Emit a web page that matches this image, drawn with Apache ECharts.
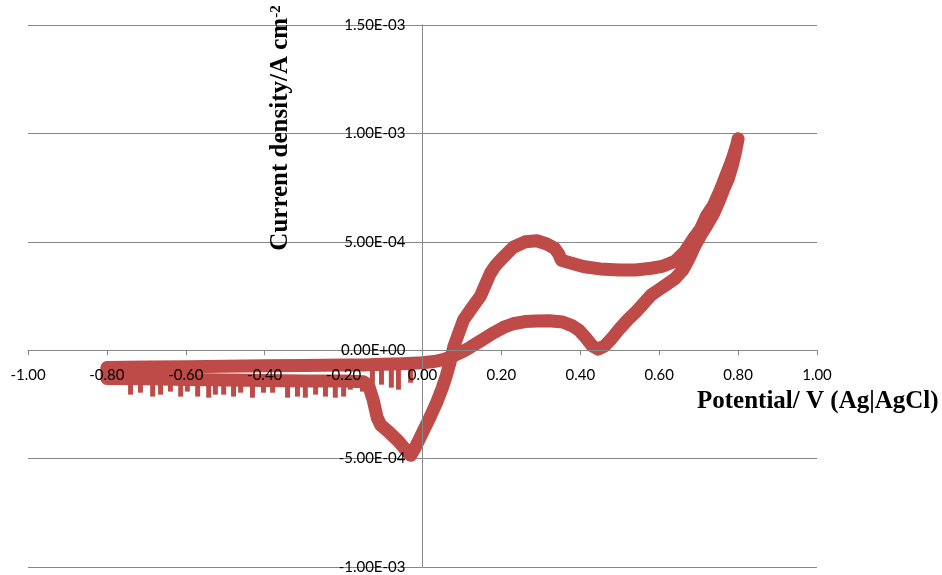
<!DOCTYPE html>
<html>
<head>
<meta charset="utf-8">
<script src="https://cdn.jsdelivr.net/npm/echarts@6/dist/echarts.min.js"></script>
<style>
html,body{margin:0;padding:0;background:#fff;}
#chart{width:942px;height:575px;}
</style>
</head>
<body>
<div id="chart"></div>
<script>
// ---- data (potential in V vs Ag|AgCl, current density in A cm^-2) ----
// closed CV loop: reverse sweep 0.8 -> -0.8, then forward sweep -0.8 -> 0.8
const potential = [
  0.800, 0.793, 0.785, 0.775, 0.763, 0.750, 0.738, 0.722, 0.705, 0.690,
  0.675, 0.660, 0.640, 0.620, 0.600, 0.580, 0.560, 0.540, 0.520, 0.500,
  0.480, 0.462, 0.445, 0.430, 0.415, 0.398, 0.380, 0.355, 0.320, 0.290,
  0.260, 0.230, 0.205, 0.180, 0.160, 0.140, 0.120, 0.100, 0.080, 0.055,
  0.030, 0.000, -0.050, -0.100, -0.150, -0.200, -0.300, -0.400, -0.500, -0.600,
  -0.700, -0.800,
  -0.800, -0.700, -0.600, -0.500, -0.400, -0.300, -0.200, -0.150, -0.137, -0.125,
  -0.115, -0.106, -0.086, -0.061, -0.040, -0.030, -0.020, 0.000, 0.020, 0.035,
  0.050, 0.060, 0.070, 0.080, 0.090, 0.104, 0.125, 0.147, 0.160, 0.172,
  0.185, 0.200, 0.230, 0.260, 0.290, 0.315, 0.335, 0.345, 0.352, 0.380,
  0.410, 0.450, 0.500, 0.540, 0.580, 0.610, 0.640, 0.665, 0.685, 0.705,
  0.720, 0.738, 0.755, 0.770, 0.785, 0.797, 0.800
];
const current = [
  9.75e-4, 9.10e-4, 8.50e-4, 7.90e-4, 7.40e-4, 6.80e-4, 6.30e-4, 5.80e-4, 5.30e-4, 4.80e-4,
  4.20e-4, 3.70e-4, 3.30e-4, 3.05e-4, 2.80e-4, 2.55e-4, 2.15e-4, 1.75e-4, 1.40e-4, 1.00e-4,
  0.55e-4, 0.20e-4, 0.05e-4, 0.20e-4, 0.55e-4, 0.90e-4, 1.12e-4, 1.30e-4, 1.36e-4, 1.35e-4,
  1.32e-4, 1.22e-4, 1.05e-4, 0.80e-4, 0.57e-4, 0.35e-4, 0.12e-4, -0.08e-4, -0.25e-4, -0.42e-4,
  -0.52e-4, -0.58e-4, -0.62e-4, -0.65e-4, -0.68e-4, -0.68e-4, -0.70e-4, -0.72e-4, -0.74e-4, -0.76e-4,
  -0.78e-4, -0.80e-4,
  -1.30e-4, -1.32e-4, -1.35e-4, -1.38e-4, -1.40e-4, -1.42e-4, -1.42e-4, -1.45e-4, -1.60e-4, -2.30e-4,
  -3.10e-4, -3.45e-4, -3.76e-4, -4.20e-4, -4.65e-4, -4.85e-4, -4.55e-4, -3.80e-4, -3.05e-4, -2.45e-4,
  -1.75e-4, -1.20e-4, -0.55e-4, 0.20e-4, 0.70e-4, 1.40e-4, 1.95e-4, 2.50e-4, 3.05e-4, 3.55e-4,
  3.90e-4, 4.20e-4, 4.75e-4, 5.00e-4, 5.05e-4, 4.90e-4, 4.70e-4, 4.45e-4, 4.15e-4, 4.00e-4,
  3.85e-4, 3.75e-4, 3.70e-4, 3.70e-4, 3.78e-4, 3.88e-4, 4.10e-4, 4.55e-4, 5.10e-4, 5.60e-4,
  6.20e-4, 6.70e-4, 7.40e-4, 8.10e-4, 8.80e-4, 9.50e-4, 9.75e-4
];
// noise spikes (short downward excursions)
const spikePotential = [
  -0.740, -0.715, -0.684, -0.664, -0.639, -0.613, -0.596, -0.570, -0.542, -0.525,
  -0.504, -0.479, -0.461, -0.431, -0.403, -0.380, -0.342, -0.317, -0.297, -0.271,
  -0.246, -0.221, -0.200, -0.183, -0.152,
  -0.127, -0.104, -0.079, -0.061, -0.030
];
const spikeFrom = [
  -1.35e-4, -1.35e-4, -1.35e-4, -1.35e-4, -1.37e-4, -1.37e-4, -1.37e-4, -1.38e-4, -1.38e-4, -1.38e-4,
  -1.39e-4, -1.40e-4, -1.40e-4, -1.40e-4, -1.40e-4, -1.41e-4, -1.42e-4, -1.42e-4, -1.42e-4, -1.42e-4,
  -1.42e-4, -1.42e-4, -1.42e-4, -1.43e-4, -1.45e-4,
  -0.66e-4, -0.64e-4, -0.63e-4, -0.62e-4, -0.60e-4
];
const spikeTo = [
  -2.05e-4, -1.96e-4, -2.14e-4, -2.05e-4, -1.91e-4, -2.14e-4, -1.91e-4, -2.14e-4, -2.19e-4, -2.05e-4,
  -2.05e-4, -2.14e-4, -1.96e-4, -2.19e-4, -1.96e-4, -1.96e-4, -2.19e-4, -2.14e-4, -2.19e-4, -2.05e-4,
  -2.14e-4, -2.19e-4, -2.14e-4, -1.82e-4, -1.91e-4,
  -1.50e-4, -1.59e-4, -1.73e-4, -1.82e-4, -1.50e-4
];
const xTickLabels = ['-1.00','-0.80','-0.60','-0.40','-0.20','0.00','0.20','0.40','0.60','0.80','1.00'];
const yTickLabels = ['-1.00E-03','-5.00E-04','0.00E+00','5.00E-04','1.00E-03','1.50E-03'];
const xTitle = 'Potential/ V (Ag|AgCl)';
const yTitle = 'Current density/A cm';
const yTitleSup = '-2';

// ---- chart ----
const RED = '#BE4B48';
const GRID = '#878787';
const GRID_LEFT = 28, GRID_RIGHT = 125, GRID_TOP = 25, GRID_BOTTOM = 8;
const W = 942, H = 575;
const plotW = W - GRID_LEFT - GRID_RIGHT, plotH = H - GRID_TOP - GRID_BOTTOM;
// axes cross at zero: shift the axis from the grid edge to the zero position
const xMin = -1, xMax = 1, yMin = -0.001, yMax = 0.0015;
const yAxisShift = -plotW * (0 - xMin) / (xMax - xMin);
const xAxisShift = -plotH * (0 - yMin) / (yMax - yMin);

const chart = echarts.init(document.getElementById('chart'), null, {renderer: 'canvas'});
const lineData = potential.map((v, i) => [v, current[i]]);
const spikeData = spikePotential.map((v, i) => [v, spikeFrom[i], spikeTo[i]]);
const labelFont = {fontFamily: 'Lato', fontSize: 15, color: '#000'};

chart.setOption({
  animation: false,
  backgroundColor: '#fff',
  grid: {left: GRID_LEFT, right: GRID_RIGHT, top: GRID_TOP, bottom: GRID_BOTTOM,
    containLabel: false, outerBoundsMode: 'none'},
  xAxis: {
    type: 'value', min: xMin, max: xMax, interval: 0.2, z: 5,
    position: 'bottom', offset: xAxisShift,
    axisLine: {onZero: false, lineStyle: {color: GRID, width: 1}},
    axisTick: {show: true, length: 5, lineStyle: {color: GRID}},
    splitLine: {show: false},
    axisLabel: Object.assign({margin: 17, showMinLabel: true, showMaxLabel: true,
      hideOverlap: false, formatter: (v, i) => xTickLabels[i]}, labelFont)
  },
  yAxis: [
    {
      type: 'value', min: yMin, max: yMax, interval: 0.0005, z: 5,
      position: 'left', offset: yAxisShift,
      axisLine: {show: true, onZero: false, lineStyle: {color: GRID, width: 1}},
      axisTick: {show: false},
      splitLine: {show: false},
      axisLabel: Object.assign({margin: 17, showMinLabel: true, showMaxLabel: true,
        hideOverlap: false, formatter: (v, i) => yTickLabels[i]}, labelFont)
    },
    {
      type: 'value', min: yMin, max: yMax, interval: 0.0005, z: 0,
      axisLine: {show: false}, axisTick: {show: false}, axisLabel: {show: false},
      splitLine: {show: true, lineStyle: {color: GRID, width: 1}}
    }
  ],
  series: [
    {
      type: 'line', data: lineData, yAxisIndex: 0, showSymbol: false, z: 2,
      smooth: false, clip: false,
      lineStyle: {color: RED, width: 13, join: 'round', cap: 'round'}
    },
    {
      type: 'custom', data: spikeData, yAxisIndex: 0, z: 2, clip: false,
      encode: {x: 0, y: [1, 2]},
      renderItem: (params, api) => {
        const a = api.coord([api.value(0), api.value(1)]);
        const b = api.coord([api.value(0), api.value(2)]);
        return {type: 'rect', shape: {x: a[0] - 2.5, y: a[1], width: 5, height: b[1] - a[1]},
          style: {fill: RED}};
      }
    }
  ],
  graphic: [
    {
      type: 'text', x: 697, y: 402, z: 100,
      style: {text: xTitle, font: 'bold 25px "Liberation Serif"', fill: '#000',
        align: 'left', verticalAlign: 'middle'}
    },
    {
      type: 'text', x: 281, y: 128, rotation: Math.PI / 2, z: 100,
      style: {
        text: yTitle + '{sup|' + yTitleSup + '}',
        font: 'bold 25px "Liberation Serif"', fill: '#000',
        align: 'center', verticalAlign: 'middle',
        rich: {sup: {fontFamily: 'Liberation Serif', fontWeight: 'bold', fontSize: 15,
          verticalAlign: 'top', fill: '#000', padding: [0, 0, 8, 0]}}
      }
    }
  ]
});
</script>
</body>
</html>
